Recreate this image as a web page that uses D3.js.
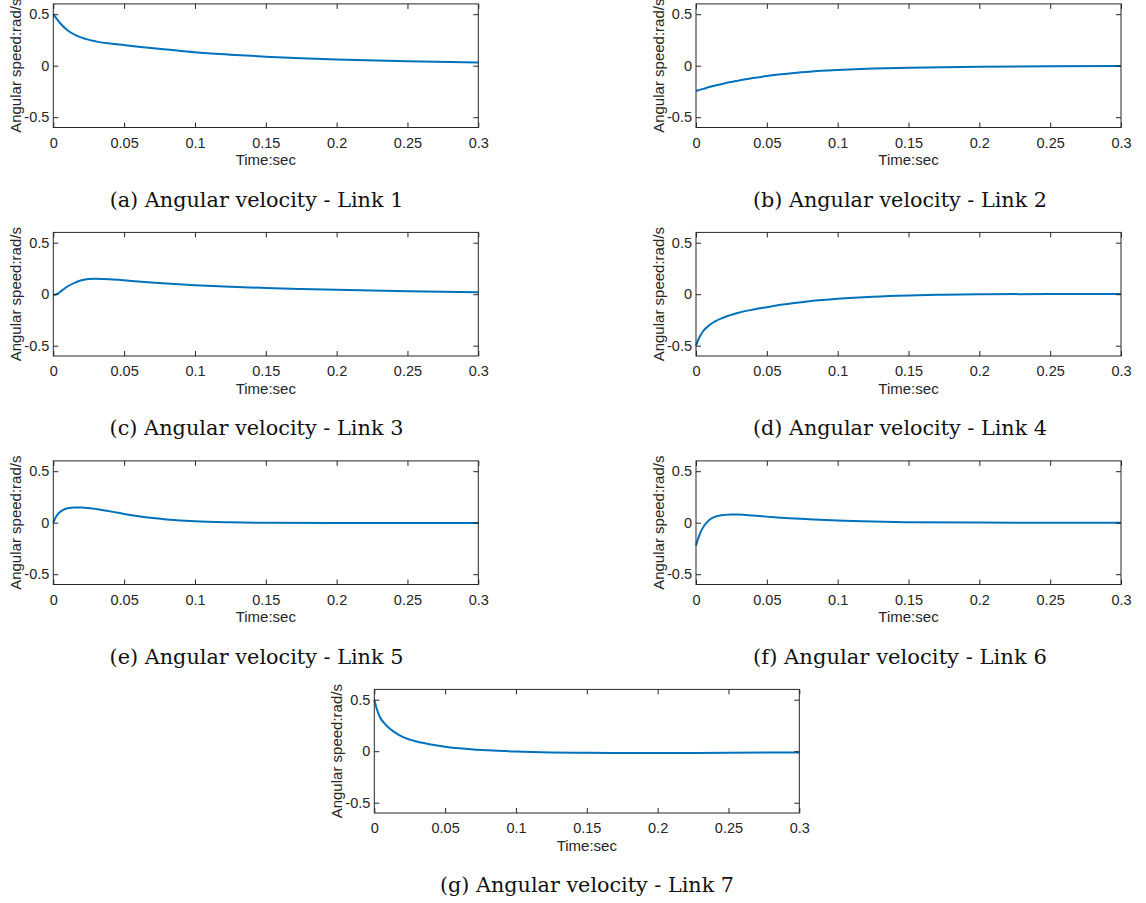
<!DOCTYPE html>
<html><head><meta charset="utf-8">
<script src="https://cdn.jsdelivr.net/npm/d3@7"></script>
<style>body{margin:0;background:#fff}svg{display:block}</style>
</head><body>
<svg id="chart" width="1146" height="903"></svg>
<script>
// ---- data ----
const xTicks = [0, 0.05, 0.1, 0.15, 0.2, 0.25, 0.3];
const xTickLabels = ["0", "0.05", "0.1", "0.15", "0.2", "0.25", "0.3"];
const yTicks = [-0.5, 0, 0.5];
const yTickLabels = ["-0.5", "0", "0.5"];
const xLabel = "Time:sec";
const yLabel = "Angular speed:rad/s";
const captions = [
  "(a) Angular velocity - Link 1", "(b) Angular velocity - Link 2",
  "(c) Angular velocity - Link 3", "(d) Angular velocity - Link 4",
  "(e) Angular velocity - Link 5", "(f) Angular velocity - Link 6",
  "(g) Angular velocity - Link 7"
];

const link1T = [0, 0.005, 0.01, 0.015, 0.02, 0.03, 0.04, 0.05, 0.06, 0.08, 0.1, 0.125, 0.15, 0.175, 0.2, 0.25, 0.3];
const link1V = [0.5, 0.41, 0.345, 0.302, 0.272, 0.236, 0.215, 0.2, 0.185, 0.157, 0.13, 0.107, 0.088, 0.072, 0.06, 0.042, 0.03];

const link2T = [0, 0.005, 0.01, 0.02, 0.03, 0.04, 0.05, 0.06, 0.08, 0.1, 0.125, 0.15, 0.2, 0.25, 0.3];
const link2V = [-0.245, -0.225, -0.205, -0.172, -0.145, -0.12, -0.10, -0.083, -0.058, -0.042, -0.028, -0.02, -0.01, -0.006, -0.004];

const link3T = [0, 0.003, 0.006, 0.01, 0.015, 0.02, 0.025, 0.03, 0.04, 0.05, 0.06, 0.08, 0.1, 0.125, 0.15, 0.175, 0.2, 0.25, 0.3];
const link3V = [-0.01, 0.005, 0.035, 0.075, 0.11, 0.135, 0.147, 0.15, 0.145, 0.135, 0.123, 0.103, 0.087, 0.072, 0.06, 0.05, 0.042, 0.029, 0.02];

const link4T = [0, 0.002, 0.005, 0.01, 0.02, 0.03, 0.04, 0.05, 0.06, 0.08, 0.1, 0.125, 0.15, 0.175, 0.2, 0.25, 0.3];
const link4V = [-0.5, -0.43, -0.36, -0.295, -0.224, -0.18, -0.15, -0.126, -0.103, -0.068, -0.044, -0.024, -0.012, -0.005, -0.001, 0.002, 0.002];

const link5T = [0, 0.002, 0.004, 0.007, 0.01, 0.015, 0.02, 0.03, 0.04, 0.05, 0.06, 0.07, 0.08, 0.1, 0.125, 0.15, 0.2, 0.25, 0.3];
const link5V = [0, 0.06, 0.095, 0.125, 0.14, 0.148, 0.147, 0.133, 0.11, 0.085, 0.063, 0.045, 0.032, 0.014, 0.004, -0.001, -0.004, -0.004, -0.003];

const link6T = [0, 0.002, 0.004, 0.006, 0.008, 0.01, 0.015, 0.02, 0.025, 0.03, 0.04, 0.05, 0.06, 0.08, 0.1, 0.125, 0.15, 0.2, 0.25, 0.3];
const link6V = [-0.22, -0.135, -0.07, -0.025, 0.008, 0.033, 0.064, 0.076, 0.08, 0.079, 0.07, 0.059, 0.048, 0.034, 0.021, 0.011, 0.005, 0.001, 0, 0];

const link7T = [0, 0.002, 0.004, 0.0075, 0.01, 0.015, 0.02, 0.03, 0.04, 0.05, 0.06, 0.07, 0.08, 0.1, 0.125, 0.15, 0.175, 0.2, 0.25, 0.3];
const link7V = [0.5, 0.4, 0.33, 0.266, 0.23, 0.178, 0.14, 0.094, 0.065, 0.044, 0.028, 0.017, 0.009, -0.003, -0.012, -0.016, -0.018, -0.018, -0.015, -0.012];

const series = [
  [link1T, link1V], [link2T, link2V], [link3T, link3V], [link4T, link4V],
  [link5T, link5V], [link6T, link6V], [link7T, link7V]
];

// ---- layout ----
const plotW = 425, plotH = 123.6, rowStep = 228.5, top0 = 3.9;
const colX = [53.3, 696, 374.3];
const captionX = [256.5, 900, 587];
const captionWidth = 294;
function panelPos(i) {
  if (i === 6) return { x: colX[2], y: top0 + 3 * rowStep, cx: captionX[2] };
  return { x: colX[i % 2], y: top0 + Math.floor(i / 2) * rowStep, cx: captionX[i % 2] };
}

const svg = d3.select("#chart");
const axisColor = "#262626";
const sansFont = "'Liberation Sans', Arial, sans-serif";
const x = d3.scaleLinear().domain([0, 0.3]).range([0, plotW]);
const y = d3.scaleLinear().domain([-0.6, 0.6]).range([plotH, 0]);

series.forEach((s, i) => {
  const p = panelPos(i);
  const g = svg.append("g").attr("transform", `translate(${p.x},${p.y})`);

  const data = s[0].map((t, k) => [t, s[1][k]]);
  const line = d3.line().x(d => x(d[0])).y(d => y(d[1])).curve(d3.curveMonotoneX);
  g.append("path").datum(data).attr("d", line)
    .attr("fill", "none").attr("stroke", "#0072BD").attr("stroke-width", 2);

  const style = sel => {
    sel.select(".domain").remove();
    sel.selectAll(".tick line").attr("stroke", axisColor).attr("stroke-width", 1);
    sel.selectAll(".tick text").attr("fill", axisColor)
      .style("font-family", sansFont).style("font-size", "14.5px");
  };

  g.append("g").attr("transform", `translate(0,${plotH})`)
    .call(d3.axisBottom(x).tickValues(xTicks).tickFormat((d, k) => xTickLabels[k])
      .tickSizeInner(-5).tickSizeOuter(0).tickPadding(10))
    .call(style);
  g.append("g")
    .call(d3.axisTop(x).tickValues(xTicks).tickFormat("").tickSizeInner(-5).tickSizeOuter(0))
    .call(style);
  g.append("g")
    .call(d3.axisLeft(y).tickValues(yTicks).tickFormat((d, k) => yTickLabels[k])
      .tickSizeInner(-5).tickSizeOuter(0).tickPadding(4))
    .call(style);
  g.append("g").attr("transform", `translate(${plotW},0)`)
    .call(d3.axisRight(y).tickValues(yTicks).tickFormat("").tickSizeInner(-5).tickSizeOuter(0))
    .call(style);

  g.append("rect").attr("x", 0).attr("y", 0).attr("width", plotW).attr("height", plotH)
    .attr("fill", "none").attr("stroke", axisColor).attr("stroke-width", 1);

  g.append("text").attr("x", plotW / 2).attr("y", plotH + 38)
    .attr("text-anchor", "middle").attr("fill", axisColor)
    .style("font-family", sansFont).style("font-size", "15px")
    .text(xLabel);

  g.append("text")
    .attr("transform", `translate(-32,${plotH / 2}) rotate(-90)`)
    .attr("text-anchor", "middle").attr("fill", axisColor)
    .style("font-family", sansFont).style("font-size", "15px")
    .text(yLabel);

  const cap = svg.append("text").attr("x", p.cx).attr("y", p.y + 203)
    .attr("text-anchor", "middle").attr("fill", "#111")
    .style("font-family", "'DejaVu Serif', serif").style("font-size", "20px")
    .text(captions[i]);
  const len = cap.node().getComputedTextLength();
  if (len > 0) {
    const fs = Math.max(18, Math.min(21.5, 20 * captionWidth / len));
    cap.style("font-size", fs + "px");
  }
});
</script>
</body></html>
